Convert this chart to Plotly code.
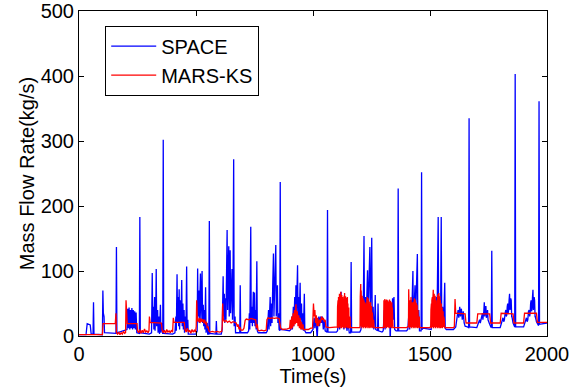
import plotly.graph_objects as go

# ---------------- data ----------------
space_t = [0, 30, 35, 42, 48, 52, 60, 62, 64, 100, 102, 104, 107, 109, 158, 160, 162,
           205, 208, 211, 214, 217, 220, 223, 226, 229, 232, 235, 238, 241, 244, 247,
           258, 260, 262, 300,
           310, 313, 315, 318, 320, 323, 325, 328, 330, 332, 336, 338, 342, 344, 348, 350, 353, 355, 358, 360, 362,
           400, 410, 414, 416, 419, 421, 424, 426, 428, 430, 433, 435, 437, 439, 441, 444, 446, 449, 451, 455, 457, 460, 462, 465, 467,
           500, 505, 507, 509, 512, 514, 517, 519, 521, 524, 526, 528, 531, 533, 536, 538, 541, 543, 548, 550, 555, 557, 559,
           585, 587, 589, 608, 612, 616, 618, 621, 623, 626, 628, 631, 633, 635, 638, 640, 642, 644, 646, 648, 651, 654, 656, 658, 661, 663, 667, 669,
           687, 689, 691, 720, 725, 728, 730, 734, 736, 739, 741, 745, 747, 750, 752, 755, 757, 760, 762, 766,
           800, 805, 810, 812, 817, 819, 823, 825, 828, 831, 833, 836, 839, 841, 843, 846, 848, 850, 853, 855, 858, 860, 862, 870,
           900, 905, 910, 912, 916, 918, 922, 924, 927, 929, 932, 934, 936, 939, 941, 945, 947, 951, 953, 957, 959, 963, 965, 970,
           990, 1000, 1005, 1008, 1012, 1015, 1018, 1021, 1025, 1028, 1032, 1036, 1040, 1044, 1048, 1052, 1060, 1062, 1064, 1100,
           1105, 1110, 1114, 1118, 1120, 1122, 1128, 1132, 1140, 1145, 1150, 1155, 1161, 1163, 1165, 1200,
           1205, 1210, 1213, 1216, 1218, 1220, 1224, 1227, 1230, 1233, 1235, 1238, 1241, 1243, 1245, 1248, 1251, 1253, 1257, 1260, 1264, 1266, 1268, 1276, 1278, 1280, 1295,
           1300, 1305, 1308, 1312, 1315, 1320, 1323, 1327, 1330, 1333, 1336, 1340, 1343, 1346, 1349, 1355, 1362, 1364, 1366, 1400,
           1405, 1410, 1413, 1418, 1421, 1424, 1427, 1429, 1433, 1436, 1438, 1442, 1446, 1448, 1452, 1455, 1462, 1464, 1466, 1470, 1500,
           1505, 1510, 1513, 1518, 1521, 1526, 1530, 1535, 1537, 1541, 1545, 1548, 1550, 1554, 1558, 1563, 1565, 1570, 1600,
           1610, 1615, 1620, 1623, 1627, 1630, 1634, 1638, 1642, 1646, 1650, 1660, 1665, 1667, 1669, 1700,
           1705, 1710, 1712, 1715, 1718, 1721, 1724, 1726, 1728, 1730, 1732, 1734, 1735, 1737, 1739, 1741, 1742, 1744, 1746, 1748, 1750, 1755, 1760, 1762, 1764, 1766, 1800,
           1805, 1810, 1812, 1815, 1818, 1821, 1824, 1826, 1828, 1830, 1832, 1834, 1836, 1838, 1840, 1842, 1843, 1845, 1847, 1849, 1850, 1855, 1860, 1862, 1864, 1866, 1900,
           1905, 1910, 1912, 1915, 1918, 1921, 1924, 1926, 1928, 1930, 1932, 1934, 1936, 1938, 1940, 1942, 1943, 1945, 1947, 1949, 1950, 1955, 1962, 1964, 1966, 1968, 2000]
space_v = [2, 2, 19, 18, 17, 3, 3, 52, 3, 2, 70, 35, 30, 5, 4, 137, 5,
           10, 42, 12, 44, 10, 40, 12, 43, 10, 40, 12, 38, 10, 36, 5,
           4, 183, 5, 3,
           5, 97, 20, 45, 10, 60, 8, 35, 103, 15, 40, 5, 30, 3, 48, 5, 20, 3, 3, 302, 4,
           3, 5, 30, 8, 95, 20, 60, 15, 72, 10, 55, 20, 45, 86, 15, 50, 10, 40, 5, 30, 8, 107, 10, 25, 3,
           3, 8, 104, 30, 70, 20, 60, 96, 25, 55, 100, 20, 48, 15, 40, 10, 75, 5, 20, 3, 3, 177, 4,
           3, 23, 3, 3, 10, 92, 30, 65, 20, 58, 25, 80, 163, 40, 100, 138, 30, 90, 132, 35, 70, 103, 25, 60, 272, 15, 30, 5,
           5, 78, 5, 5, 8, 35, 10, 168, 20, 45, 15, 68, 20, 67, 15, 40, 10, 115, 8, 5,
           5, 8, 40, 10, 60, 15, 50, 20, 80, 127, 30, 90, 100, 140, 30, 60, 78, 20, 35, 10, 8, 237, 10, 10,
           8, 10, 30, 10, 45, 15, 60, 20, 78, 30, 90, 109, 25, 60, 20, 82, 25, 50, 10, 35, 8, 65, 8, 5,
           5, 10, 28, 12, 30, 5, -5, 22, 30, 15, 30, 20, 30, 10, 25, 8, 6, 194, 6, 6,
           8, 30, 10, 50, 68, 15, 40, 10, 30, 8, 20, 5, 5, 114, 6, 6,
           10, 40, 15, 80, 154, 30, 60, 20, 70, 101, 25, 60, 90, 137, 40, 70, 151, 30, 45, 10, 30, 63, 10, 8, 50, 8, 6,
           8, 40, 10, 45, 15, 48, 20, 55, -12, 50, 20, 58, 25, 60, 10, 8, 8, 227, 8, 8,
           10, 35, 10, 55, 15, 60, 100, 20, 55, 78, 20, 60, 126, 25, 40, 8, 8, 252, 10, 12, 10,
           10, 40, 15, 55, 20, 60, 25, 183, 30, 55, 20, 183, 30, 45, 15, 82, 12, 10, 10,
           14, 25, 40, 28, 45, 30, 42, 25, 38, 20, 15, 14, 13, 335, 14, 13,
           18, 22, 25, 20, 24, 30, 35, 25, 30, 38, 52, 30, 35, 45, 45, 28, 30, 40, 40, 25, 22, 18, 14, 13, 131, 13, 13,
           18, 24, 28, 22, 25, 35, 40, 30, 32, 45, 50, 35, 40, 55, 65, 40, 45, 58, 55, 30, 30, 20, 15, 14, 403, 14, 14,
           20, 25, 28, 22, 25, 38, 40, 30, 35, 50, 55, 38, 42, 60, 71, 40, 45, 60, 55, 30, 30, 22, 16, 16, 361, 18, 20]

mars_t = [0, 100, 103, 155, 158, 160, 165, 170, 175, 180, 185, 190, 195, 199, 201, 203, 206, 248,
          250, 255, 260, 265, 270, 275, 280, 285, 290, 295, 299, 301, 304, 352,
          355, 360, 365, 370, 375, 380, 385, 390, 395, 400, 403, 406, 450,
          453, 458, 463, 468, 473, 478, 483, 488, 493, 498, 501, 503, 506, 510, 514, 517, 521, 525, 529, 533, 537, 541, 545, 548, 552, 555,
          560, 570, 580, 590, 600, 610, 612, 614, 617, 622, 628, 635, 642, 650, 658, 665, 672, 677, 680, 684, 688, 692, 700,
          705, 710, 715, 725, 735, 745, 755, 758, 762, 765, 770, 780, 790, 800,
          803, 808, 815, 825, 835, 845, 855, 858, 862, 870, 880, 890,
          900, 903, 906, 909, 912, 915, 918, 921, 924, 927, 930, 933, 936, 939, 942, 945, 948, 951, 954, 957, 960, 970, 980, 990,
          998, 1002, 1005, 1008, 1011, 1014, 1017, 1020, 1024, 1028, 1032, 1036, 1040, 1044, 1048, 1052, 1055, 1070, 1100,
          1104, 1105, 1106, 1107, 1108, 1109, 1110, 1111, 1112, 1113, 1114, 1115, 1116, 1117, 1118, 1119, 1120, 1121, 1122, 1123,
          1124, 1125, 1126, 1127, 1128, 1129, 1130, 1131, 1132, 1133, 1134, 1135, 1136, 1137, 1138, 1139, 1140, 1141, 1142, 1143,
          1144, 1145, 1146, 1147, 1148, 1149, 1150, 1151, 1152, 1153, 1154, 1155, 1156, 1158, 1160, 1200,
          1201, 1202, 1203, 1204, 1205, 1206, 1207, 1208, 1209, 1210, 1211, 1212, 1213, 1214, 1215, 1216, 1217, 1218, 1219, 1220,
          1221, 1222, 1223, 1224, 1225, 1226, 1227, 1228, 1229, 1230, 1231, 1232, 1233, 1234, 1235, 1236, 1237, 1238, 1239, 1240,
          1241, 1242, 1243, 1244, 1245, 1246, 1247, 1248, 1249, 1250, 1251, 1252, 1253, 1254, 1255, 1256, 1257, 1259, 1261, 1300,
          1302, 1303, 1304, 1305, 1306, 1307, 1308, 1309, 1310, 1311, 1312, 1313, 1314, 1315, 1316, 1317, 1318, 1319, 1320, 1321,
          1322, 1323, 1324, 1325, 1326, 1327, 1328, 1329, 1330, 1331, 1332, 1333, 1334, 1335, 1336, 1337, 1338, 1339, 1340, 1342, 1400,
          1408, 1409, 1410, 1411, 1412, 1413, 1414, 1415, 1416, 1417, 1418, 1419, 1420, 1421, 1422, 1423, 1424, 1425, 1426, 1427,
          1428, 1429, 1430, 1431, 1432, 1433, 1434, 1435, 1436, 1437, 1438, 1439, 1440, 1441, 1442, 1443, 1444, 1445, 1446, 1447,
          1448, 1449, 1450, 1451, 1452, 1454, 1456, 1500,
          1503, 1504, 1505, 1506, 1507, 1508, 1509, 1510, 1511, 1512, 1513, 1514, 1515, 1516, 1517, 1518, 1519, 1520, 1521, 1522,
          1523, 1524, 1525, 1526, 1527, 1528, 1529, 1530, 1531, 1532, 1533, 1534, 1535, 1536, 1537, 1538, 1539, 1540, 1541, 1542,
          1543, 1544, 1545, 1546, 1547, 1548, 1549, 1550, 1551, 1552, 1553, 1554, 1555, 1556, 1557, 1559, 1561, 1563, 1600,
          1604, 1607, 1610, 1650, 1654, 1700, 1704, 1755, 1759, 1800, 1804, 1855, 1859, 1900, 1904, 1955, 1959, 2000]
mars_v = [2, 2, 19, 19, 35, 5, 3, 6, 2, 5, 3, 7, 4, 5, 55, 25, 19, 19,
          8, 5, 10, 4, 9, 5, 11, 6, 8, 5, 8, 30, 21, 20,
          10, 5, 9, 4, 10, 6, 8, 5, 9, 6, 28, 21, 21,
          10, 6, 12, 6, 9, 4, 10, 6, 9, 6, 15, 55, 25, 22, 28, 20, 27, 22, 26, 20, 25, 18, 22, 12, 15, 8,
          6, 7, 6, 7, 6, 7, 15, 50, 25, 22, 24, 21, 23, 20, 22, 21, 20, 14, 18, 10, 14, 9, 9,
          12, 24, 26, 25, 27, 26, 25, 12, 18, 9, 8, 9, 8, 9,
          25, 28, 27, 28, 27, 28, 27, 20, 12, 10, 10, 11,
          12, 25, 10, 30, 12, 35, 15, 40, 18, 49, 20, 38, 15, 32, 12, 28, 10, 22, 10, 18, 10, 10, 10, 12,
          12, 50, 30, 40, 20, 32, 15, 28, 15, 25, 20, 30, 25, 28, 22, 25, 14, 13, 13,
          14, 45, 15, 55, 12, 60, 18, 50, 14, 65, 20, 55, 12, 62, 18, 68, 15, 58, 12, 63,
          20, 55, 14, 60, 15, 45, 12, 57, 16, 62, 13, 66, 19, 52, 12, 61, 17, 56, 14, 59,
          20, 54, 12, 60, 15, 50, 13, 48, 16, 44, 12, 38, 14, 30, 13, 13,
          15, 60, 18, 80, 15, 70, 20, 55, 12, 62, 18, 50, 14, 58, 20, 45, 12, 55, 18, 48,
          14, 52, 20, 42, 12, 50, 16, 40, 13, 57, 15, 60, 18, 54, 12, 58, 20, 47, 13, 53,
          17, 49, 12, 44, 15, 52, 19, 41, 13, 46, 15, 38, 12, 36, 16, 30, 13, 25, 13, 13,
          15, 55, 15, 50, 12, 57, 18, 52, 14, 55, 20, 50, 12, 56, 16, 48, 14, 55, 18, 45,
          13, 53, 15, 51, 12, 56, 18, 49, 13, 54, 16, 50, 14, 47, 12, 52, 17, 44, 15, 13, 13,
          15, 72, 15, 55, 12, 50, 18, 55, 14, 48, 20, 60, 12, 50, 16, 45, 14, 52, 20, 40,
          12, 45, 15, 53, 13, 58, 18, 49, 12, 56, 14, 47, 19, 51, 13, 44, 16, 48, 12, 42,
          15, 40, 13, 36, 15, 30, 13, 13,
          15, 40, 15, 50, 12, 55, 18, 60, 14, 55, 20, 71, 12, 58, 18, 65, 14, 55, 20, 62,
          12, 50, 16, 55, 14, 45, 18, 40, 12, 60, 15, 64, 13, 57, 19, 66, 12, 59, 17, 61,
          14, 55, 12, 52, 18, 50, 13, 47, 16, 44, 12, 42, 15, 38, 14, 30, 25, 13, 13,
          14, 57, 35, 34, 20, 20, 34, 34, 20, 20, 35, 34, 20, 20, 35, 35, 21, 21]

x_ticks = [0, 500, 1000, 1500, 2000]
y_ticks = [0, 100, 200, 300, 400, 500]

FONT = "Arial, Liberation Sans, sans-serif"
FS = 20

fig = go.Figure()
fig.add_trace(go.Scatter(x=space_t, y=space_v, mode="lines", name="SPACE",
                         line=dict(color="#0000ff", width=1.3)))
fig.add_trace(go.Scatter(x=mars_t, y=mars_v, mode="lines", name="MARS-KS",
                         line=dict(color="#ff0000", width=1.3)))

axis_common = dict(showline=True, linecolor="black", linewidth=1, mirror="ticks",
                   ticks="inside", ticklen=5, tickcolor="black", showgrid=False,
                   zeroline=False, automargin=False,
                   tickfont=dict(family=FONT, size=FS, color="black"))

fig.update_xaxes(range=[0, 2000], tickvals=x_ticks, ticktext=[str(v) for v in x_ticks],
                 title=dict(text="Time(s)", font=dict(family=FONT, size=FS, color="black"), standoff=0),
                 **axis_common)
fig.update_yaxes(range=[0, 500], tickvals=y_ticks, ticktext=[str(v) for v in y_ticks],
                 title=dict(text="Mass Flow Rate(kg/s)", font=dict(family=FONT, size=FS, color="black"), standoff=0),
                 **axis_common)

fig.update_layout(
    width=579, height=389,
    margin=dict(l=79, r=32, t=11, b=53, autoexpand=False),
    paper_bgcolor="white", plot_bgcolor="white",
    font=dict(family=FONT, size=FS, color="black"),
    legend=dict(x=0.056, y=0.955, xanchor="left", yanchor="top",
                bgcolor="white", bordercolor="black", borderwidth=1,
                itemwidth=45, tracegroupgap=0,
                font=dict(family=FONT, size=FS, color="black")),
    showlegend=True,
)

fig.write_html("out.html")
